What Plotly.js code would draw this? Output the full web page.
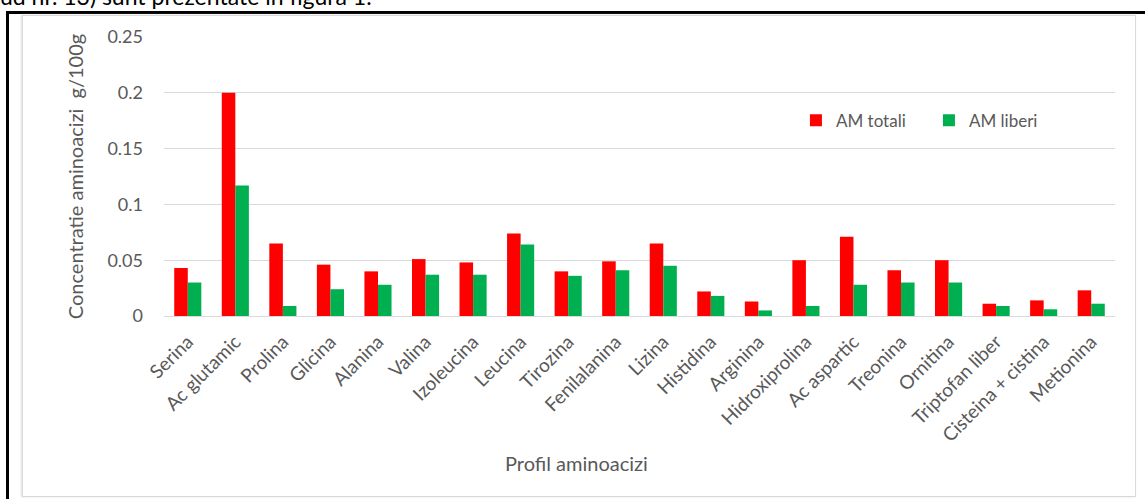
<!DOCTYPE html>
<html>
<head>
<meta charset="utf-8">
<script src="https://cdn.plot.ly/plotly-3.0.1.min.js"></script>
<style>
  html, body { margin: 0; padding: 0; background: #ffffff; width: 1145px; height: 499px; overflow: hidden; }
  #caption { position: absolute; left: 0; top: -18px; font-family: Lato, "Liberation Sans", sans-serif; font-size: 23px; color: #000; white-space: nowrap; }
  #frame { position: absolute; left: 6px; top: 11px; width: 1150px; height: 520px; border-left: 3px solid #000; border-top: 3px solid #000; box-sizing: border-box; }
  #area { position: absolute; left: 22px; top: 15px; width: 1114px; height: 482px; border: 1px solid #d9d9d9; box-shadow: -1px 0 2px #e0e0e0; box-sizing: border-box; }
  #chart { position: absolute; left: 0; top: 0; width: 1145px; height: 499px; }
</style>
</head>
<body>
<div id="caption">ud nr. 13) sunt prezentate în figura 1.</div>
<div id="frame"></div>
<div id="area"></div>
<div id="chart"></div>
<script>
const categories = ["Serina", "Ac glutamic", "Prolina", "Glicina", "Alanina", "Valina", "Izoleucina", "Leucina", "Tirozina", "Fenilalanina", "Lizina", "Histidina", "Arginina", "Hidroxiprolina", "Ac aspartic", "Treonina", "Ornitina", "Triptofan liber", "Cisteina + cistina", "Metionina"];
const amTotali = [0.043, 0.200, 0.065, 0.046, 0.040, 0.051, 0.048, 0.074, 0.040, 0.049, 0.065, 0.022, 0.013, 0.050, 0.071, 0.041, 0.050, 0.011, 0.014, 0.023];
const amLiberi = [0.030, 0.117, 0.009, 0.024, 0.028, 0.037, 0.037, 0.064, 0.036, 0.041, 0.045, 0.018, 0.005, 0.009, 0.028, 0.030, 0.030, 0.009, 0.006, 0.011];
const seriesNames = ["AM totali", "AM liberi"];
const yTickVals = [0, 0.05, 0.1, 0.15, 0.2, 0.25];
const yTickText = ["0", "0.05", "0.1", "0.15", "0.2", "0.25"];

const FONT = 'Lato, "Liberation Sans", sans-serif';
const GRAY = '#595959';

const traces = [
  { type: 'bar', name: seriesNames[0], x: categories, y: amTotali, marker: { color: '#ff0000' } },
  { type: 'bar', name: seriesNames[1], x: categories, y: amLiberi, marker: { color: '#00b050' } }
];

const layout = {
  width: 1145, height: 499,
  paper_bgcolor: 'rgba(0,0,0,0)', plot_bgcolor: 'rgba(0,0,0,0)',
  margin: { l: 164, r: 30, t: 37, b: 183 },
  barmode: 'group', bargap: 0.43, bargroupgap: 0,
  font: { family: FONT, color: GRAY },
  showlegend: true,
  legend: {
    orientation: 'h', x: 0.6645, xanchor: 'left', y: 0.70, yanchor: 'middle',
    bgcolor: 'rgba(0,0,0,0)', font: { family: FONT, size: 17, color: GRAY },
    itemwidth: 30, entrywidth: 88
  },
  xaxis: {
    type: 'category', tickangle: -45, tickfont: { family: FONT, size: 19, color: GRAY },
    showgrid: false, showline: false, zeroline: false, ticks: '', automargin: false,
    ticklabelstandoff: 10
  },
  yaxis: {
    range: [0, 0.25], tickvals: yTickVals, ticktext: yTickText,
    tickfont: { family: FONT, size: 18, color: GRAY },
    showgrid: true, gridcolor: '#d9d9d9', gridwidth: 1, zeroline: true, zerolinecolor: '#d9d9d9',
    showline: false, ticks: '', automargin: false, ticklabelstandoff: 20,
    title: { text: 'Concentratie aminoacizi  g/100g', font: { family: FONT, size: 20, color: GRAY }, standoff: 18 }
  },
  annotations: [
    { text: 'Profil aminoacizi', xref: 'paper', yref: 'paper', x: 0.434, xanchor: 'center',
      y: -0.527, yanchor: 'middle', showarrow: false, font: { family: FONT, size: 20, color: GRAY } }
  ]
};

Plotly.newPlot('chart', traces, layout, { displayModeBar: false, staticPlot: true });
</script>
</body>
</html>
